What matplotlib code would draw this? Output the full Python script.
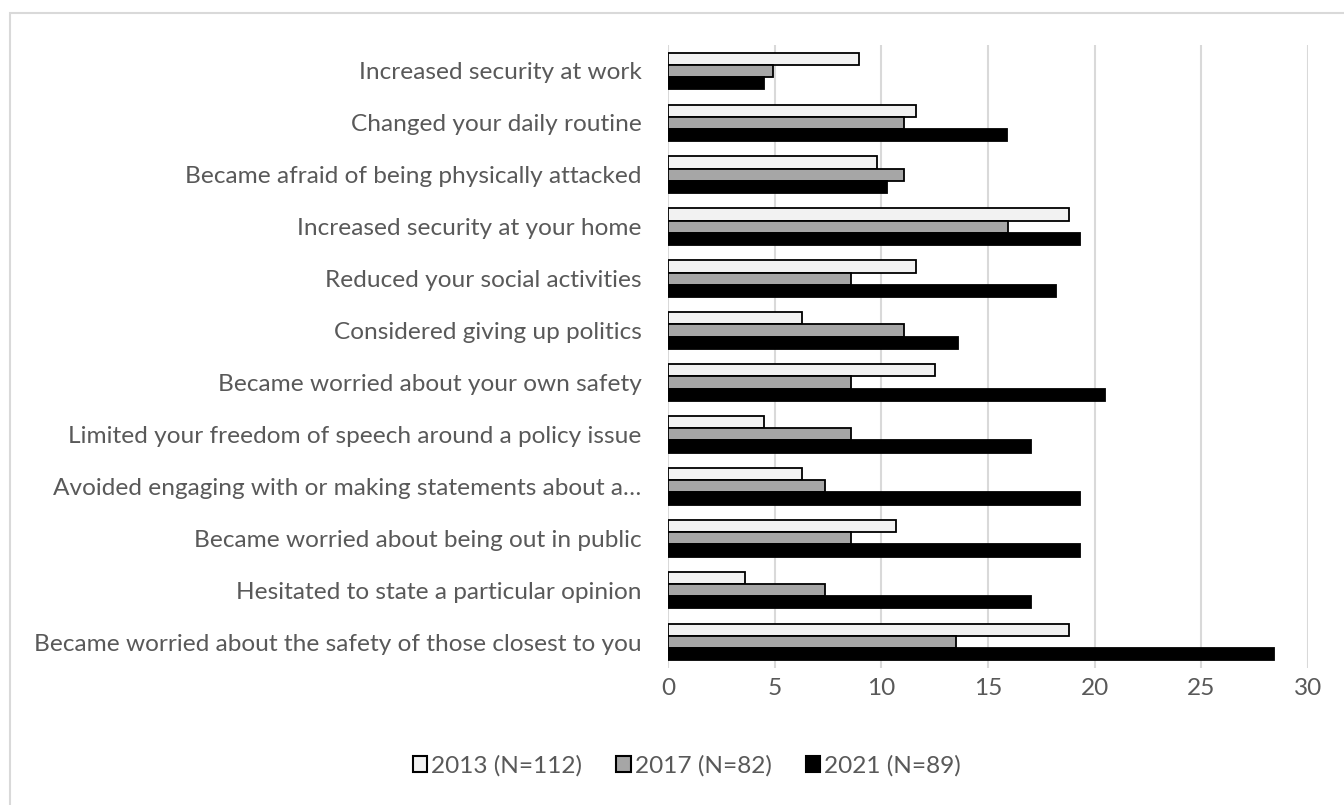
import matplotlib
matplotlib.use("Agg")
import matplotlib.pyplot as plt
import numpy as np
from matplotlib.patches import Rectangle, Patch

categories = [
    "Increased security at work",
    "Changed your daily routine",
    "Became afraid of being physically attacked",
    "Increased security at your home",
    "Reduced your social activities",
    "Considered giving up politics",
    "Became worried about your own safety",
    "Limited your freedom of speech around a policy issue",
    "Avoided engaging with or making statements about a…",
    "Became worried about being out in public",
    "Hesitated to state a particular opinion",
    "Became worried about the safety of those closest to you",
]
series_names = ["2013 (N=112)", "2017 (N=82)", "2021 (N=89)"]
v2013 = [8.93, 11.61, 9.82, 18.79, 11.61, 6.27, 12.52, 4.48, 6.27, 10.71, 3.59, 18.79]
v2017 = [4.90, 11.05, 11.05, 15.95, 8.57, 11.05, 8.57, 8.57, 7.38, 8.57, 7.38, 13.48]
v2021 = [4.52, 15.90, 10.25, 19.33, 18.20, 13.60, 20.50, 17.03, 19.33, 19.33, 17.03, 28.40]
xticks = [0, 5, 10, 15, 20, 25, 30]

plt.rcParams['font.family'] = ['Lato', 'DejaVu Sans']
text_color = "#595959"
fs = 17.6

fig = plt.figure(figsize=(13.44, 8.05), dpi=100)
fig.patches.append(Rectangle((10/1344, -0.05), 1.2, 1.05 - 13/805, transform=fig.transFigure,
                             fill=False, edgecolor="#d9d9d9", linewidth=1.5, zorder=0))
ax = fig.add_axes([668/1344, 1 - 668/805, 640/1344, 623/805])

y = np.arange(len(categories))
h = 0.235
styles = [("#f2f2f2", "black"), ("#a6a6a6", "black"), ("black", "black")]
for i, (vals, (fc, ec)) in enumerate(zip([v2013, v2017, v2021], styles)):
    ax.barh(y + (i - 1) * h, vals, height=h, color=fc, edgecolor=ec, linewidth=1.3,
            label=series_names[i], zorder=3)

ax.set_ylim(len(categories) - 0.5, -0.5)
ax.set_xlim(0, 30)
ax.set_xticks(xticks)
ax.set_yticks(y)
ax.set_yticklabels(categories)
ax.grid(axis='x', color="#d9d9d9", linewidth=1.5, zorder=0)
ax.set_axisbelow(True)
for s in ax.spines.values():
    s.set_visible(False)
ax.tick_params(axis='y', length=0, pad=19, labelsize=fs, labelcolor=text_color)
ax.tick_params(axis='x', length=0, pad=7, labelsize=fs, labelcolor=text_color)

handles = [Patch(facecolor=fc, edgecolor=ec, linewidth=1.5) for fc, ec in styles]
fig.legend(handles, series_names, loc='center', bbox_to_anchor=(0.511, 1 - 766/805),
           ncol=3, frameon=False, fontsize=fs, labelcolor=text_color,
           handlelength=0.6, handleheight=0.6, handletextpad=0.15, columnspacing=1.4)

fig.savefig("out.png", dpi=100)
